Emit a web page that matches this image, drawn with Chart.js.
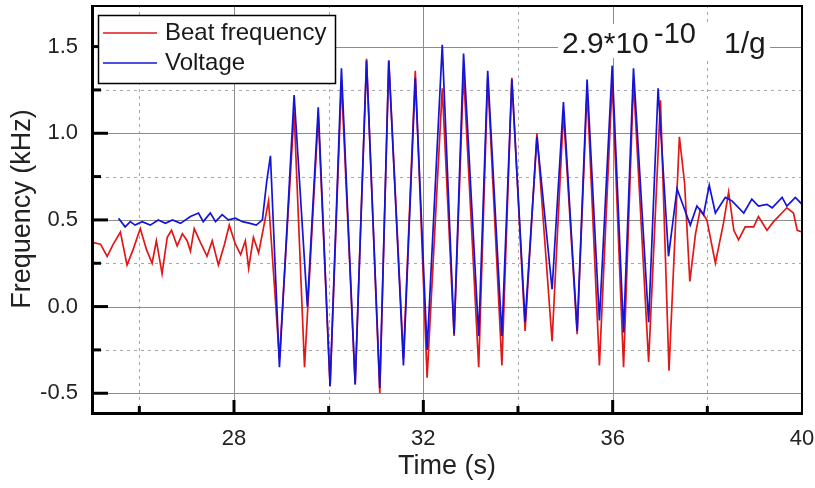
<!DOCTYPE html>
<html><head><meta charset="utf-8">
<script src="https://cdn.jsdelivr.net/npm/chart.js@4.4.1/dist/chart.umd.min.js"></script>
<style>html,body{margin:0;padding:0;background:#fff;}#wrap{width:815px;height:488px;}</style>
</head><body><div id="wrap"><canvas id="c" width="815" height="488"></canvas></div>
<script>
const seriesNames = ['Beat frequency', 'Voltage'];
const beatTime = [25.0,25.18,25.32,25.45,25.60,25.74,25.87,26.02,26.15,26.27,26.36,26.48,26.59,26.68,26.80,26.91,27.01,27.08,27.16,27.29,27.43,27.54,27.67,27.80,27.90,28.03,28.14,28.24,28.31,28.41,28.52,28.62,28.73,28.96,29.27,29.49,29.78,30.03,30.27,30.56,30.80,31.08,31.27,31.58,31.83,32.08,32.40,32.65,32.85,33.17,33.36,33.66,33.87,34.15,34.40,34.72,34.96,35.25,35.46,35.72,35.99,36.23,36.44,36.76,37.01,37.19,37.41,37.52,37.63,37.75,37.85,37.99,38.17,38.34,38.45,38.56,38.66,38.80,38.98,39.08,39.26,39.40,39.68,39.82,39.90,40.0];
const beatFreq = [0.37,0.36,0.29,0.36,0.43,0.24,0.33,0.45,0.33,0.25,0.38,0.19,0.40,0.44,0.35,0.42,0.38,0.32,0.45,0.37,0.29,0.38,0.24,0.36,0.47,0.36,0.30,0.38,0.22,0.40,0.31,0.45,0.61,-0.30,1.12,-0.35,1.10,-0.46,1.30,-0.45,1.43,-0.50,1.42,-0.30,1.36,-0.41,1.26,-0.17,1.35,-0.35,1.32,-0.34,1.32,-0.14,1.00,-0.20,1.12,-0.16,1.25,-0.34,1.30,-0.35,1.30,-0.32,1.19,-0.37,0.98,0.71,0.145,0.42,0.56,0.50,0.25,0.48,0.66,0.44,0.385,0.46,0.46,0.52,0.44,0.49,0.57,0.54,0.44,0.43];
const voltTime = [25.56,25.70,25.81,25.91,26.06,26.23,26.40,26.55,26.70,26.87,27.08,27.25,27.35,27.50,27.61,27.75,27.88,28.03,28.18,28.34,28.47,28.60,28.69,28.77,28.96,29.27,29.55,29.78,30.03,30.27,30.56,30.80,31.08,31.27,31.58,31.83,32.08,32.40,32.65,32.85,33.17,33.36,33.66,33.87,34.15,34.40,34.72,34.96,35.25,35.46,35.72,35.99,36.23,36.44,36.76,36.96,37.18,37.36,37.64,37.78,37.92,38.04,38.17,38.38,38.52,38.77,38.94,39.08,39.26,39.37,39.58,39.68,39.86,40.0];
const voltFreq = [0.51,0.46,0.49,0.47,0.49,0.47,0.50,0.48,0.50,0.48,0.52,0.54,0.49,0.54,0.49,0.53,0.50,0.51,0.49,0.48,0.47,0.50,0.72,0.87,-0.35,1.22,0.00,1.15,-0.46,1.375,-0.45,1.42,-0.47,1.42,-0.34,1.32,-0.25,1.51,-0.16,1.46,-0.17,1.36,-0.17,1.31,-0.09,0.98,0.10,1.18,-0.14,1.31,-0.08,1.39,-0.15,1.375,-0.09,1.26,0.29,0.68,0.47,0.58,0.53,0.70,0.54,0.63,0.61,0.54,0.62,0.58,0.59,0.57,0.63,0.58,0.63,0.59];
const xTickValues = [28, 32, 36, 40];
const xMinorValues = [26, 30, 34, 38];
const yTickValues = [-0.5, 0, 0.5, 1.0, 1.5];
const yMinorValues = [-0.25, 0.25, 0.75, 1.25];
const xTitle = 'Time (s)';
const yTitle = 'Frequency (kHz)';
const annotationParts = ['2.9*10', '-10', '1/g'];

const FONT = "'Liberation Sans', Arial, sans-serif";
const RED = '#e01818';
const BLUE = '#1414d8';

const toPts = (xs, ys) => xs.map((t, i) => ({x: t, y: ys[i]}));

const framePlugin = {
  id: 'frame',
  beforeDatasetsDraw(chart) {
    const {ctx, chartArea: a, scales: {x, y}} = chart;
    ctx.save();
    ctx.lineWidth = 1;
    ctx.strokeStyle = '#a8a8a8';
    ctx.setLineDash([3, 4]);
    xMinorValues.forEach(v => { const p = Math.round(x.getPixelForValue(v)) + 0.5; ctx.beginPath(); ctx.moveTo(p, a.top); ctx.lineTo(p, a.bottom); ctx.stroke(); });
    yMinorValues.forEach(v => { const p = Math.round(y.getPixelForValue(v)) + 0.5; ctx.beginPath(); ctx.moveTo(a.left, p); ctx.lineTo(a.right, p); ctx.stroke(); });
    ctx.setLineDash([]);
    ctx.strokeStyle = '#8c8c8c';
    xTickValues.forEach(v => { const p = Math.round(x.getPixelForValue(v)) + 0.5; ctx.beginPath(); ctx.moveTo(p, a.top); ctx.lineTo(p, a.bottom); ctx.stroke(); });
    yTickValues.forEach(v => { const p = Math.round(y.getPixelForValue(v)) + 0.5; ctx.beginPath(); ctx.moveTo(a.left, p); ctx.lineTo(a.right, p); ctx.stroke(); });
    ctx.restore();
  },
  afterDatasetsDraw(chart) {
    const {ctx, chartArea: a, scales: {x, y}} = chart;
    ctx.save();
    // annotation background and text
    ctx.fillStyle = '#fff';
    ctx.fillRect(558, 24, 212, 34);
    ctx.fillStyle = '#1a1a1a';
    ctx.textBaseline = 'alphabetic';
    ctx.textAlign = 'left';
    ctx.font = '30px ' + FONT;
    ctx.fillText(annotationParts[0], 562, 53);
    ctx.font = '29px ' + FONT;
    ctx.fillText(annotationParts[1], 654, 43);
    ctx.font = '30px ' + FONT;
    ctx.fillText(annotationParts[2], 724, 53);

    // frame
    ctx.strokeStyle = '#000';
    ctx.lineWidth = 2;
    ctx.beginPath();
    ctx.moveTo(a.left, a.top + 1); ctx.lineTo(a.right, a.top + 1); ctx.lineTo(a.right, a.bottom);
    ctx.stroke();
    ctx.lineWidth = 3;
    ctx.beginPath();
    ctx.moveTo(a.left + 0.5, a.top); ctx.lineTo(a.left + 0.5, a.bottom + 0.5); ctx.lineTo(a.right + 1, a.bottom + 0.5);
    ctx.stroke();
    // inward ticks
    ctx.lineWidth = 3;
    const tick = (x1, y1, x2, y2) => { ctx.beginPath(); ctx.moveTo(x1, y1); ctx.lineTo(x2, y2); ctx.stroke(); };
    xTickValues.forEach(v => { const p = x.getPixelForValue(v); if (p < a.right - 2) tick(p, a.bottom, p, a.bottom - 13); });
    xMinorValues.forEach(v => { const p = x.getPixelForValue(v); tick(p, a.bottom, p, a.bottom - 7); });
    yTickValues.forEach(v => { const p = y.getPixelForValue(v); tick(a.left, p, a.left + 16, p); });
    yMinorValues.forEach(v => { const p = y.getPixelForValue(v); tick(a.left, p, a.left + 9, p); });

    // legend box
    const lx = 98, ly = 15, lw = 237, lh = 68;
    ctx.fillStyle = '#fff';
    ctx.fillRect(lx, ly, lw, lh);
    ctx.lineWidth = 1.5;
    ctx.strokeStyle = '#000';
    ctx.strokeRect(lx + 0.5, ly + 0.5, lw, lh);
    const items = [{c: RED, t: seriesNames[0], yy: 33}, {c: BLUE, t: seriesNames[1], yy: 63}];
    items.forEach(it => {
      ctx.strokeStyle = it.c;
      ctx.lineWidth = 1.6;
      ctx.beginPath(); ctx.moveTo(103, it.yy); ctx.lineTo(157, it.yy); ctx.stroke();
      ctx.fillStyle = '#1a1a1a';
      ctx.font = '24px ' + FONT;
      ctx.textBaseline = 'middle';
      ctx.fillText(it.t, 165, it.yy);
    });
    ctx.restore();
  }
};

new Chart(document.getElementById('c'), {
  type: 'line',
  data: {
    datasets: [
      {label: seriesNames[0], data: toPts(beatTime, beatFreq), borderColor: RED, borderWidth: 1.7, pointRadius: 0, tension: 0, order: 2, fill: false},
      {label: seriesNames[1], data: toPts(voltTime, voltFreq), borderColor: BLUE, borderWidth: 1.7, pointRadius: 0, tension: 0, order: 1, fill: false}
    ]
  },
  options: {
    responsive: false,
    animation: false,
    devicePixelRatio: 1,
    layout: {padding: {top: 5, right: 13, left: 0, bottom: 0}},
    plugins: {legend: {display: false}, tooltip: {enabled: false}},
    scales: {
      x: {
        type: 'linear', min: 25, max: 40,
        grid: {display: false, drawTicks: false},
        border: {display: false},
        afterBuildTicks: s => { s.ticks = xTickValues.map(v => ({value: v})); },
        afterFit: s => { s.height = 75; s.paddingLeft = 0; s.paddingRight = 0; },
        ticks: {font: {family: FONT, size: 22}, color: '#222', padding: 13, maxRotation: 0, autoSkip: false, callback: v => String(v)},
        title: {display: true, text: xTitle, font: {family: FONT, size: 27}, color: '#222', padding: {top: 0, bottom: 5}}
      },
      y: {
        type: 'linear', min: -0.614, max: 1.74,
        grid: {display: false, drawTicks: false},
        border: {display: false},
        afterBuildTicks: s => { s.ticks = yTickValues.map(v => ({value: v})); },
        afterFit: s => { s.width = 92; s.paddingTop = 0; s.paddingBottom = 0; },
        ticks: {font: {family: FONT, size: 22}, color: '#222', padding: 14, callback: v => Number(v).toFixed(1)},
        title: {display: true, text: yTitle, font: {family: FONT, size: 27}, color: '#222', padding: {top: 6, bottom: 0}}
      }
    }
  },
  plugins: [framePlugin]
});
</script></body></html>
